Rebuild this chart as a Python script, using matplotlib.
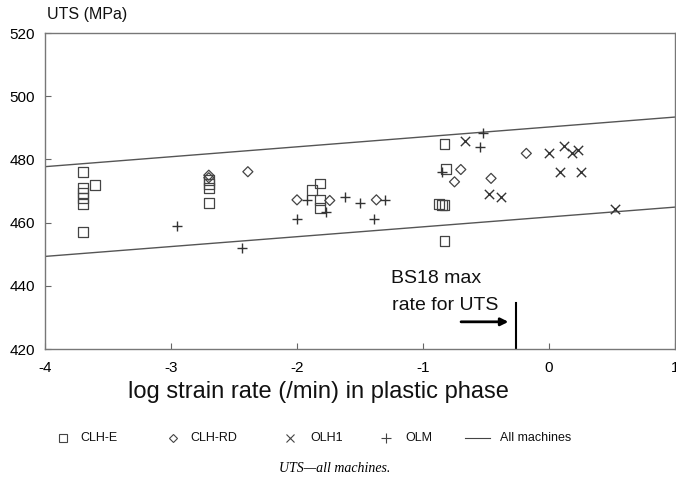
import matplotlib
matplotlib.use("Agg")
import matplotlib.pyplot as plt
from matplotlib.lines import Line2D

plt.rcParams['font.family'] = ['Liberation Sans', 'DejaVu Sans']

# CLH-E (squares)
clhe_x = [-3.70, -3.70, -3.70, -3.70, -3.70, -3.70, -3.60,
          -2.70, -2.70, -2.70, -2.70,
          -1.82, -1.88, -1.82, -1.82,
          -0.83, -0.82, -0.87, -0.85, -0.83, -0.83]
clhe_y = [476, 471, 469.3, 467.7, 466, 457, 472,
          473.5, 472.3, 471, 466.3,
          472.4, 470.3, 467.2, 464.5,
          485, 477, 466, 465.5, 465.5, 454.3]

# CLH-RD (diamonds)
clhrd_x = [-2.70, -2.70, -2.39, -2.00, -1.74, -1.37, -0.70, -0.75, -0.46, -0.18]
clhrd_y = [475, 474.2, 476.1, 467.2, 467.0, 467.2, 476.8, 472.9, 474.0, 481.9]

# OLH1 (x)
olh1_x = [-0.67, -0.48, -0.38, 0.00, 0.12, 0.18, 0.23, 0.09, 0.25, 0.52]
olh1_y = [485.9, 469.0, 468.0, 482.0, 484.2, 481.9, 483.0, 476.1, 476.1, 464.3]

# OLM (+)
olm_x = [-2.95, -2.44, -2.00, -1.92, -1.77, -1.62, -1.50, -1.39, -1.30, -0.85, -0.55, -0.52]
olm_y = [459.0, 452.0, 461.0, 467.2, 463.2, 468.2, 466.1, 461.0, 467.2, 476.1, 484.0, 488.2]

# All machines bounds (line endpoints)
band_x = [-4, 1]
upper_y = [477.7, 493.4]
lower_y = [449.3, 464.9]

# BS18 marker
bs18_x = -0.26
arrow_start = (-0.72, 428.6)
arrow_end = (-0.30, 428.6)

xticks = [-4, -3, -2, -1, 0, 1]
yticks = [420, 440, 460, 480, 500, 520]

fig = plt.figure(figsize=(6.76, 4.94), dpi=100)
ax = fig.add_axes([45/676, 1 - 349/494, 630/676, (349-33)/494])

mc = '#333333'
ax.plot(band_x, upper_y, color='#555555', lw=1.0)
ax.plot(band_x, lower_y, color='#555555', lw=1.0)
ax.scatter(clhe_x, clhe_y, marker='s', s=50, facecolors='none', edgecolors='#444444', linewidths=0.9, zorder=3)
ax.scatter(clhrd_x, clhrd_y, marker='D', s=26, facecolors='none', edgecolors='#444444', linewidths=0.9, zorder=3)
ax.scatter(olh1_x, olh1_y, marker='x', s=45, color=mc, linewidths=1.0, zorder=3)
ax.scatter(olm_x, olm_y, marker='+', s=60, color=mc, linewidths=1.0, zorder=3)

ax.plot([bs18_x, bs18_x], [420, 434.5], color='black', lw=1.5)
ax.annotate('', xy=arrow_end, xytext=arrow_start,
            arrowprops=dict(arrowstyle='-|>', color='black', lw=2, mutation_scale=11))
ax.text(-1.255, 440.9, 'BS18 max', ha='left', va='baseline', fontsize=14, color='#111111')
ax.text(-1.245, 432.3, 'rate for UTS', ha='left', va='baseline', fontsize=14, color='#111111')

ax.set_xlim(-4, 1)
ax.set_ylim(420, 520)
ax.set_xticks(xticks)
ax.set_yticks(yticks)
ax.set_xticklabels([str(t) for t in xticks], fontsize=11)
ax.set_yticklabels([str(t) for t in yticks], fontsize=11)
ax.tick_params(direction='in', length=4, width=0.8, color='#666666')
ax.tick_params(axis='x', pad=9)
ax.tick_params(axis='y', pad=7)
for s in ax.spines.values():
    s.set_color('#777777')
    s.set_linewidth(1.0)

ax.set_xlabel('log strain rate (/min) in plastic phase', fontsize=17, color='#111111')
ax.xaxis.set_label_coords((318 - 45) / 630, -(392 - 349) / 316, transform=ax.transAxes)
ax.xaxis.label.set_va('center')
fig.text(47/676, 1 - 15/494, 'UTS (MPa)', fontsize=11.5, va='center', ha='left', color='#111111')

# legend drawn by hand in figure pixel coordinates
leg_y = 1 - 438/494
H, W = 494, 676
legend_labels = ['CLH-E', 'CLH-RD', 'OLH1', 'OLM', 'All machines']
legend_marker_x = [63, 173, 290, 386]
legend_text_x = [80, 190, 310, 405, 500]
legend_markers = [('s', 6, 'none'), ('D', 4.5, 'none'), ('x', 6, None), ('+', 7.5, None)]
for (m, ms, mfc), mx in zip(legend_markers, legend_marker_x):
    kw = dict(marker=m, ls='none', ms=ms, mew=0.8, transform=fig.transFigure)
    if mfc == 'none':
        kw.update(mfc='none', mec='#444444')
    else:
        kw.update(color='#444444')
    fig.add_artist(Line2D([mx / W], [leg_y], **kw))
fig.add_artist(Line2D([465 / W, 490 / W], [leg_y, leg_y], color='#444444', lw=0.8,
                      transform=fig.transFigure))
for lab, tx in zip(legend_labels, legend_text_x):
    fig.text(tx / W, leg_y, lab, fontsize=9, ha='left', va='center', color='#111111')

fig.text(335 / W, 1 - 468 / H, 'UTS\u2014all machines.', fontsize=10, style='italic',
         family=['Liberation Serif', 'DejaVu Serif'], ha='center', va='center')

fig.savefig('out.png', dpi=100)
